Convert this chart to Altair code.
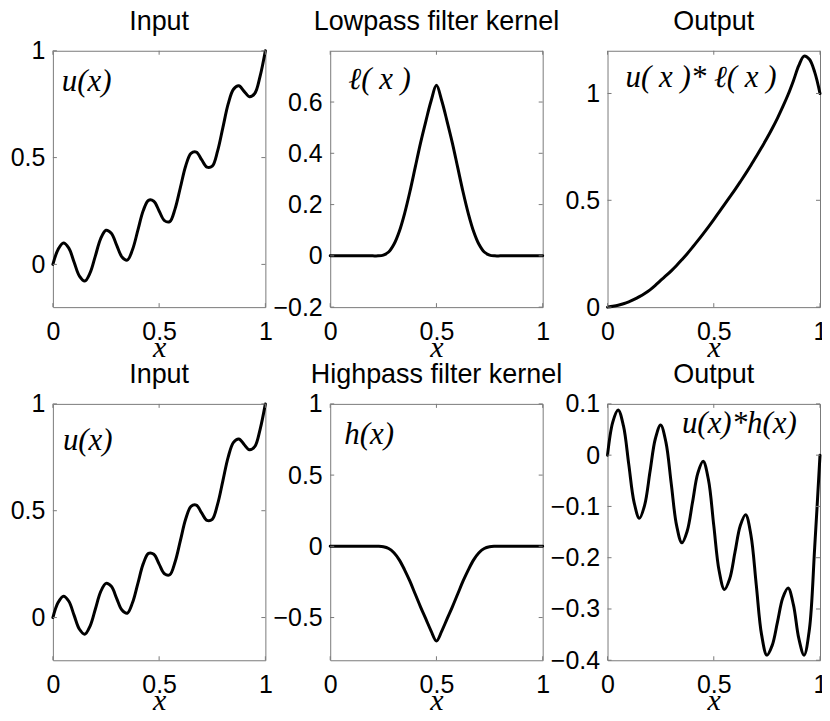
import altair as alt
import pandas as pd

# ---------------- data ----------------
x_grid = [0, 0.025, 0.05, 0.075, 0.1, 0.125, 0.15, 0.175, 0.2, 0.225,
          0.25, 0.275, 0.3, 0.325, 0.35, 0.375, 0.4, 0.425, 0.45, 0.475,
          0.5, 0.525, 0.55, 0.575, 0.6, 0.625, 0.65, 0.675, 0.7, 0.725,
          0.75, 0.775, 0.8, 0.825, 0.85, 0.875, 0.9, 0.925, 0.95, 0.975, 1.0]

u_input = [0, 0.071, 0.10, 0.076, 0.01, -0.055, -0.078, -0.040, 0.04, 0.121,
           0.16, 0.146, 0.09, 0.035, 0.02, 0.07, 0.16, 0.251, 0.30, 0.296,
           0.25, 0.205, 0.20, 0.26, 0.36, 0.461, 0.52, 0.526, 0.49, 0.455,
           0.46, 0.53, 0.64, 0.751, 0.82, 0.836, 0.81, 0.785, 0.80, 0.88, 1.0]

lowpass = [0, 0, 0, 0, 0, 0, 0, 0, 0, 0,
           0.003, 0.015, 0.045, 0.095, 0.165, 0.25, 0.345, 0.44, 0.525, 0.605,
           0.665, 0.605, 0.525, 0.44, 0.345, 0.25, 0.165, 0.095, 0.045, 0.015,
           0.003, 0, 0, 0, 0, 0, 0, 0, 0, 0, 0]

out_low = [0, 0.004, 0.009, 0.016, 0.025, 0.036, 0.049, 0.064, 0.081, 0.102,
           0.125, 0.147, 0.17, 0.195, 0.222, 0.25, 0.28, 0.311, 0.343, 0.376,
           0.41, 0.445, 0.48, 0.515, 0.55, 0.587, 0.625, 0.664, 0.705, 0.747,
           0.79, 0.836, 0.885, 0.938, 0.995, 1.06, 1.13, 1.175, 1.16, 1.10, 1.0]

highpass = [0, 0, 0, 0, 0, 0, 0, 0, 0, 0,
            -0.003, -0.015, -0.045, -0.095, -0.165, -0.245, -0.335, -0.425, -0.51, -0.595,
            -0.665, -0.595, -0.51, -0.425, -0.335, -0.245, -0.165, -0.095, -0.045, -0.015,
            -0.003, 0, 0, 0, 0, 0, 0, 0, 0, 0, 0]

out_high = [0, 0.065, 0.088, 0.057, -0.018, -0.092, -0.123, -0.097, -0.032, 0.032,
            0.059, 0.025, -0.056, -0.137, -0.171, -0.148, -0.092, -0.035, -0.012, -0.048,
            -0.137, -0.225, -0.262, -0.241, -0.189, -0.137, -0.116, -0.156, -0.253, -0.35,
            -0.39, -0.371, -0.325, -0.278, -0.259, -0.292, -0.357, -0.39, -0.34, -0.18, 0.0]

panel_titles = ["Input", "Lowpass filter kernel", "Output",
                "Input", "Highpass filter kernel", "Output"]
curve_labels = ["u(x)", "ℓ( x )", "u( x )* ℓ( x )", "u(x)", "h(x)", "u(x)*h(x)"]
y_domains = [[-0.2, 1], [-0.2, 0.8], [0, 1.2], [-0.2, 1], [-0.8, 1], [-0.4, 0.1]]
y_ticks = [[0, 0.5, 1], [-0.2, 0, 0.2, 0.4, 0.6], [0, 0.5, 1],
           [0, 0.5, 1], [-0.5, 0, 0.5, 1], [-0.4, -0.3, -0.2, -0.1, 0, 0.1]]
x_ticks = [0, 0.5, 1]
series = [u_input, lowpass, out_low, u_input, highpass, out_high]

# annotation anchors (data coordinates of each panel)
label_x = [0.042, 0.085, 0.085, 0.047, 0.066, 0.35]
label_y = [0.81, 0.65, 1.03, 0.785, 0.72, 0.044]

# ---------------- styling ----------------
W, H = 213, 257
FRAME = "#7a7a7a"
TICK = 4
TITLE_GAP = 21


def panel(i):
    xs = alt.Scale(domain=[0, 1], nice=False, zero=False)
    ys = alt.Scale(domain=y_domains[i], nice=False, zero=False)
    ax_x = alt.Axis(values=x_ticks, format="~g", title="x")
    ax_y = alt.Axis(values=y_ticks[i], format="~g", title=None)
    X = lambda: alt.X("x:Q", scale=xs, axis=ax_x)
    Y = lambda: alt.Y("y:Q", scale=ys, axis=ax_y)

    df = pd.DataFrame({"x": x_grid, "y": series[i]})
    line = alt.Chart(df).mark_line(
        color="black", strokeWidth=3, interpolate="catmull-rom",
        strokeCap="round", strokeJoin="round"
    ).encode(x=X(), y=Y())

    xt = pd.DataFrame({"x": x_ticks})
    yt = pd.DataFrame({"y": y_ticks[i]})
    xb = alt.Chart(xt).mark_rule(color=FRAME, strokeWidth=1).encode(
        x=X(), y=alt.value(H), y2=alt.value(H - TICK))
    xtop = alt.Chart(xt).mark_rule(color=FRAME, strokeWidth=1).encode(
        x=X(), y=alt.value(0), y2=alt.value(TICK))
    yl = alt.Chart(yt).mark_rule(color=FRAME, strokeWidth=1).encode(
        y=Y(), x=alt.value(0), x2=alt.value(TICK))
    yr = alt.Chart(yt).mark_rule(color=FRAME, strokeWidth=1).encode(
        y=Y(), x=alt.value(W - TICK), x2=alt.value(W))

    lbl_df = pd.DataFrame({"x": [label_x[i]], "y": [label_y[i]], "t": [curve_labels[i]]})
    lbl = alt.Chart(lbl_df).mark_text(
        align="left", baseline="alphabetic", font="Liberation Serif",
        fontStyle="italic", fontSize=31, color="black"
    ).encode(x=X(), y=Y(), text="t:N")

    ttl_df = pd.DataFrame({"t": [panel_titles[i]]})
    ttl = alt.Chart(ttl_df).mark_text(
        align="center", baseline="alphabetic", font="Liberation Sans",
        fontSize=27, color="black"
    ).encode(x=alt.value(W / 2), y=alt.value(-TITLE_GAP), text="t:N")

    return alt.layer(line, xb, xtop, yl, yr, lbl, ttl).properties(width=W, height=H)


chart = alt.concat(
    *[panel(i) for i in range(6)],
    columns=3, spacing={"row": 97, "column": 65}, bounds="flush"
).properties(
    padding={"left": 1, "top": -2, "right": -6, "bottom": -6}
).configure_view(
    stroke=FRAME, strokeWidth=1
).configure_axis(
    labelFont="Liberation Sans", labelFontSize=25, labelColor="black",
    ticks=False, tickSize=0, domain=False, grid=False,
    labelFlush=False, labelOverlap=False,
    titleFont="Liberation Serif", titleFontStyle="italic", titleFontWeight="normal",
    titleFontSize=30, titleColor="black",
).configure_axisX(
    labelPadding=12, titleY=49, titleBaseline="alphabetic"
).configure_axisY(
    labelPadding=8
)

chart.save("out.html", embed_options={"renderer": "svg", "actions": False})
